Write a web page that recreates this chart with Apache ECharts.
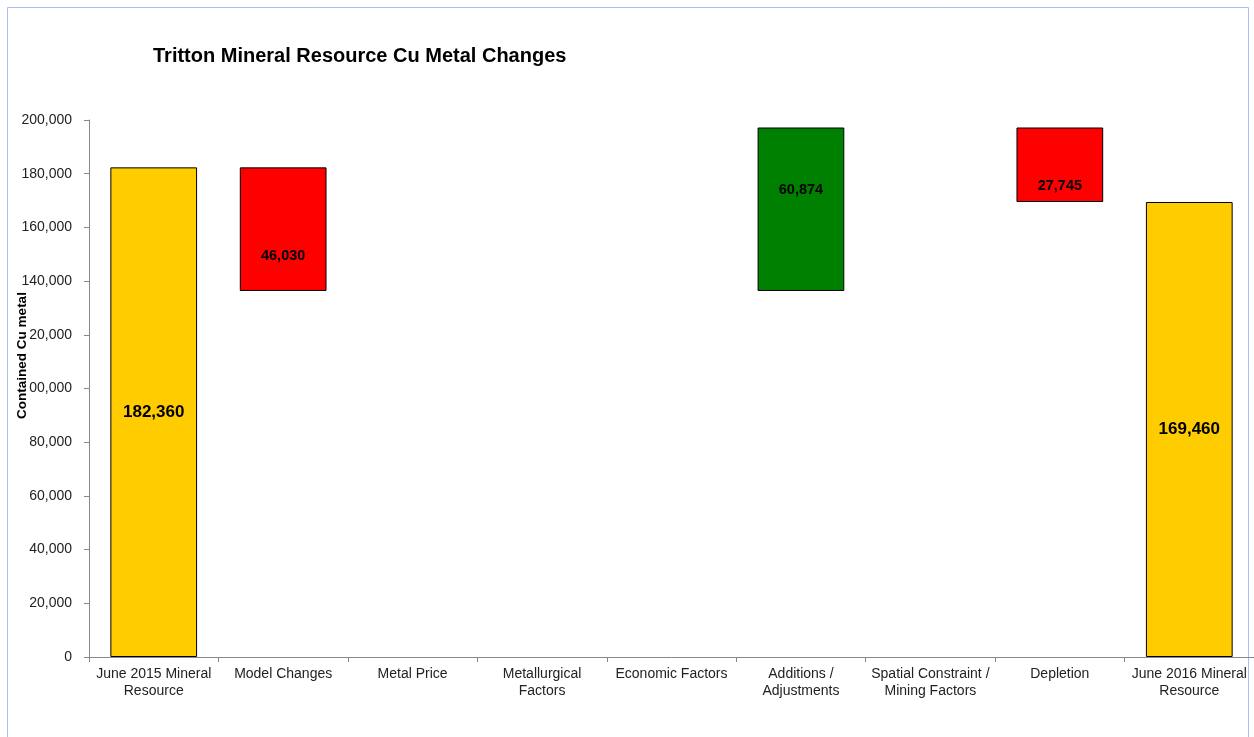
<!DOCTYPE html>
<html>
<head>
<meta charset="utf-8">
<script src="https://cdn.jsdelivr.net/npm/echarts@6/dist/echarts.min.js"></script>
<style>
  html, body { margin: 0; padding: 0; background: #fff; }
  #chart { width: 1254px; height: 737px; }
</style>
</head>
<body>
<div id="chart"></div>
<script>
// categories along the x axis
const categories = [
  'June 2015 Mineral\nResource',
  'Model Changes',
  'Metal Price',
  'Metallurgical\nFactors',
  'Economic Factors',
  'Additions /\nAdjustments',
  'Spatial Constraint /\nMining Factors',
  'Depletion',
  'June 2016 Mineral\nResource'
];

// opening and closing totals, and the changes in between
const startTotal = 182360;
const changes = [-46030, 0, 0, 0, 60874, 0, -27745];
const endTotal = 169460;

// y axis ticks
const yMin = 0;
const yMax = 200000;
const yStep = 20000;

// build waterfall: invisible base + visible segment
const base = [0];
const seg = [{ value: startTotal, kind: 'total' }];
let running = startTotal;
changes.forEach(c => {
  if (c >= 0) {
    base.push(running);
    seg.push({ value: c, kind: c === 0 ? 'none' : 'up' });
  } else {
    base.push(running + c);
    seg.push({ value: -c, kind: 'down' });
  }
  running += c;
});
base.push(0);
seg.push({ value: endTotal, kind: 'total' });

const colors = { total: '#FFCC00', up: '#008000', down: '#FF0000', none: 'transparent' };
// label nudges, to sit where the original puts them
const labelNudge = [0, 27, 0, 0, 0, -19, 0, 21, 0];

const segData = seg.map((s, i) => ({
  value: s.value,
  itemStyle: {
    color: colors[s.kind],
    borderColor: s.kind === 'none' ? 'transparent' : '#000',
    borderWidth: s.kind === 'none' ? 0 : 1
  },
  label: {
    show: s.kind !== 'none',
    fontSize: s.kind === 'total' ? 17 : 14.5,
    offset: [0, labelNudge[i]]
  }
}));

const chart = echarts.init(document.getElementById('chart'));
chart.setOption({
  animation: false,
  textStyle: { fontFamily: 'Liberation Sans, Arial, sans-serif' },
  title: {
    text: 'Tritton Mineral Resource Cu Metal Changes',
    left: 148,
    top: 41,
    textStyle: { fontSize: 20, fontWeight: 'bold', color: '#000' }
  },
  graphic: [{
    type: 'rect',
    shape: { x: 7.5, y: 7.5, width: 1241, height: 740 },
    style: { fill: 'none', stroke: '#a8bdf2', lineWidth: 1 }
  }],
  grid: { left: 89, right: 0, top: 120, bottom: 80, outerBoundsMode: 'none', containLabel: false },
  xAxis: {
    type: 'category',
    data: categories,
    axisLine: { lineStyle: { color: '#888', width: 1 } },
    axisTick: { show: true, length: 5, lineStyle: { color: '#888' } },
    axisLabel: { color: '#222', fontSize: 14, lineHeight: 17, margin: 9, interval: 0 }
  },
  yAxis: [
    {
      type: 'value',
      min: yMin,
      max: yMax,
      interval: yStep,
      axisLine: { show: true, lineStyle: { color: '#888', width: 1 } },
      axisTick: { show: true, length: 5, lineStyle: { color: '#888' } },
      splitLine: { show: false },
      axisLabel: {
        color: '#222',
        fontSize: 14,
        margin: 17,
        formatter: v => v.toLocaleString('en-US')
      }
    },
    {
      // title only, drawn above the tick labels on a white box as in the original
      type: 'value',
      position: 'left',
      min: yMin,
      max: yMax,
      z: 10,
      axisLine: { show: false },
      axisTick: { show: false },
      axisLabel: { show: false },
      splitLine: { show: false },
      name: '{t|Contained Cu metal}',
      nameLocation: 'middle',
      nameGap: 60,
      nameMoveOverlap: false,
      nameTextStyle: {
        padding: [0, 0, 0, 66],
        rich: {
          t: { fontSize: 13.5, fontWeight: 'bold', color: '#000', backgroundColor: '#fff', padding: [1, 3, 0, 3] }
        }
      }
    }
  ],
  series: [
    {
      type: 'bar',
      stack: 'wf',
      data: base,
      itemStyle: { color: 'transparent' },
      emphasis: { disabled: true },
      barCategoryGap: '33%'
    },
    {
      type: 'bar',
      stack: 'wf',
      data: segData,
      barCategoryGap: '33%',
      label: {
        show: true,
        position: 'inside',
        color: '#000',
        fontWeight: 'bold',
        formatter: p => p.value.toLocaleString('en-US')
      }
    }
  ]
});
</script>
</body>
</html>
